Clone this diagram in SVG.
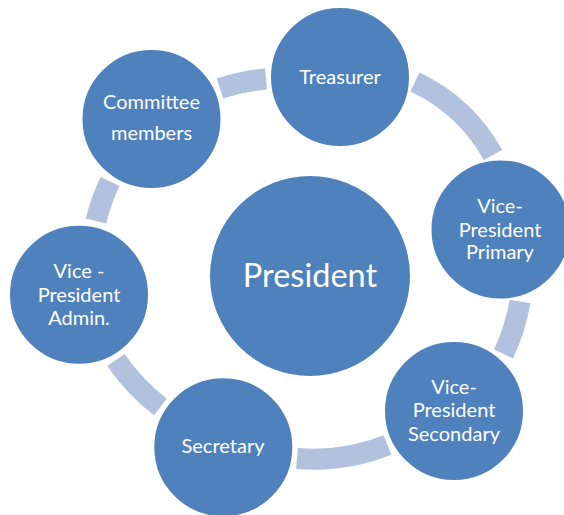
<svg xmlns="http://www.w3.org/2000/svg" width="564" height="515" viewBox="0 0 564 515">
  <style>
    .node { fill: #4F81BD; stroke: #FFFFFF; stroke-width: 2; }
    .label { fill: #FFFFFF; font-family: Lato, "Open Sans", "Liberation Sans", sans-serif; font-size: 20px; text-anchor: middle; }
    .big { font-size: 32.5px; }
    .link { fill: none; stroke: #B1C1DE; stroke-width: 21; stroke-linecap: butt; }
  </style>
  <rect width="564" height="515" fill="#FFFFFF"/>

  <!-- ring segments joining the outer nodes -->
  <g id="connectors">
    <path class="link" d="M 220 88.5 A 200 200 0 0 1 266 79"/>
    <path class="link" d="M 415 82 A 175 175 0 0 1 493 155"/>
    <path class="link" d="M 520 301.5 A 200 200 0 0 1 503.5 354"/>
    <path class="link" d="M 387.5 445 A 200 200 0 0 1 297 458.5"/>
    <path class="link" d="M 160.5 407 A 200 200 0 0 1 116 360"/>
    <path class="link" d="M 96 221 A 200 200 0 0 1 110 181.5"/>
  </g>

  <g id="president">
    <circle class="node" cx="310" cy="276" r="101"/>
    <text class="label big" x="310" y="286.5">President</text>
  </g>

  <g id="treasurer">
    <circle class="node" cx="340" cy="77" r="70"/>
    <text class="label" x="340" y="84">Treasurer</text>
  </g>

  <g id="vp-primary">
    <circle class="node" cx="500.5" cy="229.5" r="70"/>
    <text class="label" x="500" y="213">Vice-</text>
    <text class="label" x="500" y="236.5">President</text>
    <text class="label" x="500" y="259">Primary</text>
  </g>

  <g id="vp-secondary">
    <circle class="node" cx="454" cy="411" r="70"/>
    <text class="label" x="454" y="393.5">Vice-</text>
    <text class="label" x="454" y="417.3">President</text>
    <text class="label" x="454" y="441">Secondary</text>
  </g>

  <g id="secretary">
    <circle class="node" cx="223.3" cy="447.3" r="70"/>
    <text class="label" x="223" y="453">Secretary</text>
  </g>

  <g id="vp-admin">
    <circle class="node" cx="79" cy="294.7" r="70"/>
    <text class="label" x="79" y="278.3">Vice -</text>
    <text class="label" x="79" y="301.5">President</text>
    <text class="label" x="79" y="325">Admin.</text>
  </g>

  <g id="committee">
    <circle class="node" cx="151.5" cy="119" r="70"/>
    <text class="label" x="151.5" y="109">Committee</text>
    <text class="label" x="151.5" y="140">members</text>
  </g>
</svg>
